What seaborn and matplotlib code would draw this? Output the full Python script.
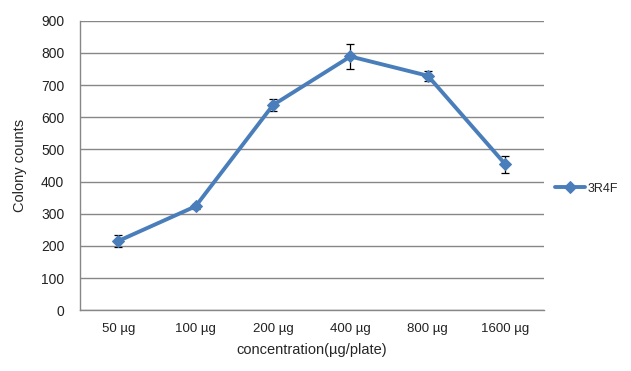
import pandas as pd
import matplotlib
matplotlib.use('Agg')
import matplotlib.pyplot as plt
from matplotlib.ticker import FixedLocator
import seaborn as sns

# datos
concentraciones = ['50 µg', '100 µg', '200 µg', '400 µg', '800 µg', '1600 µg']
colonias = [215, 323, 638, 789, 729, 454]
errores = [20, 8, 20, 38, 16, 26]
serie = '3R4F'

df = pd.DataFrame({'conc': concentraciones, 'colonias': colonias, 'err': errores})

sns.set_style('white')
plt.rcParams['font.family'] = ['Liberation Sans', 'DejaVu Sans']

azul = '#4A7EBB'
gris = '#878787'

fig = plt.figure(figsize=(6.31, 3.71), dpi=100)
ax = fig.add_axes([0.126, 0.164, 0.736, 0.78])

pos = list(range(len(concentraciones)))
df['pos'] = pos

# barras de error
ax.errorbar(df['pos'], df['colonias'], yerr=df['err'], fmt='none',
            ecolor='black', elinewidth=0.9, capsize=3, capthick=0.9, zorder=3)

# linea principal
sns.lineplot(data=df, x='pos', y='colonias', ax=ax, color=azul, linewidth=2.8,
             marker='D', markersize=6, markeredgecolor=azul, label=serie, zorder=4)

ax.set_xlim(-0.5, len(pos) - 0.5)
ax.set_ylim(0, 900)
ax.set_yticks(range(0, 901, 100))
ax.yaxis.grid(True, color=gris, linewidth=1)
ax.xaxis.grid(False)

ax.set_xticks(pos)
ax.set_xticklabels(concentraciones)
ax.xaxis.set_minor_locator(FixedLocator([p - 0.5 for p in pos] + [len(pos) - 0.5]))
ax.tick_params(axis='x', which='major', length=0, pad=9, labelsize=9.5, labelcolor='#222222')
ax.tick_params(axis='x', which='minor', length=5, color=gris, width=1, direction='out')
ax.tick_params(axis='y', length=5, color=gris, width=1, direction='out', pad=6,
               labelsize=10, labelcolor='#222222')

for s in ['top', 'right']:
    ax.spines[s].set_visible(False)
for s in ['left', 'bottom']:
    ax.spines[s].set_color(gris)
    ax.spines[s].set_linewidth(1)

ax.set_xlabel('concentration(µg/plate)', fontsize=10.5, labelpad=6)
ax.set_ylabel('Colony counts', fontsize=10.5, labelpad=10)

ax.legend(loc='center left', bbox_to_anchor=(1.0, 0.42), frameon=False,
          fontsize=9, handlelength=2.4, handletextpad=0.2)

fig.savefig('out.png', dpi=100)
